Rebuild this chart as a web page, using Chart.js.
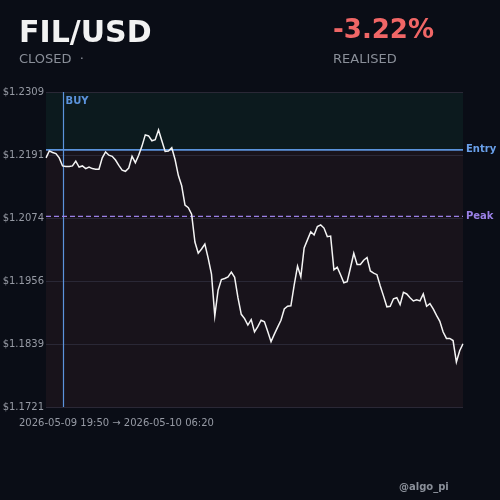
<!DOCTYPE html>
<html>
<head>
<meta charset="utf-8">
<script src="https://cdn.jsdelivr.net/npm/chart.js@4.4.0/dist/chart.umd.min.js"></script>
<style>
  html, body { margin: 0; padding: 0; background: #0a0d16; }
  #wrap { position: relative; width: 500px; height: 500px; overflow: hidden; font-family: 'DejaVu Sans', sans-serif; }
  #c { position: absolute; left: 0; top: 0; }
  .t { position: absolute; white-space: nowrap; line-height: 1; }
  #pair { left: 19px; top: 17px; font-size: 30px; font-weight: bold; color: #f2f2f2; }
  #status { left: 19px; top: 52px; font-size: 13px; color: #8a8f99; }
  #pct { left: 333px; top: 16px; font-size: 26px; font-weight: bold; color: #f06666; }
  #realised { left: 333px; top: 52px; font-size: 13px; color: #8a8f99; }
  #range { left: 19px; top: 418px; font-size: 10px; color: #969aa4; }
  #handle { left: 399px; top: 482px; font-size: 10px; font-weight: bold; color: #8a8f99; }
</style>
</head>
<body>
<div id="wrap">
  <canvas id="c" width="500" height="500"></canvas>
  <div class="t" id="pair">FIL/USD</div>
  <div class="t" id="status">CLOSED &nbsp;·</div>
  <div class="t" id="pct">-3.22%</div>
  <div class="t" id="realised">REALISED</div>
  <div class="t" id="range">2026-05-09 19:50 → 2026-05-10 06:20</div>
  <div class="t" id="handle">@algo_pi</div>
</div>
<script>
// preço de fechamento a cada 5 min
const PRICES = [
  1.2186, 1.2199, 1.2196, 1.2194, 1.2186, 1.2171, 1.2170, 1.2170, 1.2171, 1.2180,
  1.2169, 1.2171, 1.2166, 1.2169, 1.2166, 1.2165, 1.2165, 1.2186, 1.2197, 1.2191,
  1.2189, 1.2182, 1.2172, 1.2163, 1.2161, 1.2167, 1.2189, 1.2177, 1.2191, 1.2208,
  1.2229, 1.2227, 1.2218, 1.2220, 1.2238, 1.2218, 1.2198, 1.2199, 1.2205, 1.2183,
  1.2153, 1.2134, 1.2098, 1.2093, 1.2081, 1.2029, 1.2008, 1.2016, 1.2025, 1.1999,
  1.1969, 1.1891, 1.1939, 1.1959, 1.1961, 1.1964, 1.1973, 1.1963, 1.1925, 1.1894,
  1.1886, 1.1874, 1.1884, 1.1861, 1.1871, 1.1883, 1.1880, 1.1862, 1.1843, 1.1857,
  1.1870, 1.1883, 1.1904, 1.1909, 1.1910, 1.1949, 1.1984, 1.1964, 1.2018, 1.2033,
  1.2048, 1.2042, 1.2058, 1.2061, 1.2055, 1.2039, 1.2040, 1.1977, 1.1982, 1.1968,
  1.1953, 1.1955, 1.1981, 1.2008, 1.1987, 1.1987, 1.1995, 1.2000, 1.1975, 1.1971,
  1.1968, 1.1947, 1.1928, 1.1908, 1.1909, 1.1923, 1.1925, 1.1912, 1.1935, 1.1932,
  1.1925, 1.1919, 1.1921, 1.1919, 1.1932, 1.1909, 1.1914, 1.1904, 1.1892, 1.1881,
  1.1861, 1.1849, 1.1849, 1.1845, 1.1805, 1.1826, 1.1839
];
const Y_TICKS = [1.1721, 1.18386, 1.19562, 1.20738, 1.21914, 1.2309];
const ENTRY_PRICE = 1.2201;
const PEAK_PRICE = 1.2077;
const BUY_INDEX = 5;
const START_TIME = '2026-05-09T19:50';
const STEP_MIN = 5;

const labels = [];
const t0 = new Date(START_TIME);
for (let i = 0; i < PRICES.length; i++) {
    const d = new Date(t0.getTime() + i * STEP_MIN * 60000);
    labels.push(d.toTimeString().slice(0, 5));
}

const FONT = "'DejaVu Sans', sans-serif";
const BLUE = '#5b93dc';
const PURPLE = '#9a80e6';

const zonasPlugin = {
    id: 'zonas',
    beforeDraw(chart) {
        const { ctx, chartArea: a, scales: { y } } = chart;
        const ye = y.getPixelForValue(ENTRY_PRICE);
        ctx.save();
        ctx.fillStyle = '#0c1a1e';
        ctx.fillRect(a.left, a.top, a.right - a.left, ye - a.top);
        ctx.fillStyle = '#18131b';
        ctx.fillRect(a.left, ye, a.right - a.left, a.bottom - ye);
        ctx.restore();
    },
    beforeDatasetsDraw(chart) {
        const { ctx, chartArea: a, scales: { x, y } } = chart;
        const ye = y.getPixelForValue(ENTRY_PRICE);
        const yp = y.getPixelForValue(PEAK_PRICE);
        const xb = x.getPixelForValue(BUY_INDEX);
        ctx.save();
        // linha de compra
        ctx.strokeStyle = BLUE;
        ctx.lineWidth = 1.2;
        ctx.beginPath();
        ctx.moveTo(Math.round(xb) + 0.5, a.top);
        ctx.lineTo(Math.round(xb) + 0.5, a.bottom);
        ctx.stroke();
        // entrada
        ctx.lineWidth = 1.6;
        ctx.beginPath();
        ctx.moveTo(a.left, ye);
        ctx.lineTo(a.right, ye);
        ctx.stroke();
        // pico
        ctx.strokeStyle = PURPLE;
        ctx.lineWidth = 1.3;
        ctx.setLineDash([5, 3]);
        ctx.beginPath();
        ctx.moveTo(a.left, yp);
        ctx.lineTo(a.right, yp);
        ctx.stroke();
        ctx.setLineDash([]);
        // rótulos
        ctx.font = 'bold 10px ' + FONT;
        ctx.textBaseline = 'middle';
        ctx.textAlign = 'left';
        ctx.fillStyle = BLUE;
        ctx.fillText('BUY', xb + 3, a.top + 9);
        ctx.fillStyle = '#6aa0ea';
        ctx.fillText('Entry', a.right + 3, ye);
        ctx.fillStyle = PURPLE;
        ctx.fillText('Peak', a.right + 3, yp);
        ctx.restore();
    }
};

const ctx = document.getElementById('c').getContext('2d');
const precoChart = new Chart(ctx, {
    type: 'line',
    data: {
        labels: labels,
        datasets: [{
            data: PRICES,
            borderColor: '#f4f4f4',
            borderWidth: 1.5,
            pointRadius: 0,
            tension: 0,
            fill: false
        }]
    },
    options: {
        responsive: false,
        animation: false,
        layout: { padding: { top: 92, right: 37, bottom: 93, left: 0 } },
        plugins: {
            legend: { display: false },
            tooltip: { enabled: false }
        },
        scales: {
            x: {
                display: false,
                offset: false
            },
            y: {
                min: Y_TICKS[0],
                max: Y_TICKS[Y_TICKS.length - 1],
                afterFit: (scale) => { scale.width = 46; },
                afterBuildTicks: (scale) => { scale.ticks = Y_TICKS.map(v => ({ value: v })); },
                border: { display: false },
                grid: { color: '#2a2836', lineWidth: 1, drawTicks: false },
                ticks: {
                    padding: 2,
                    color: '#969aa4',
                    font: { family: FONT, size: 10 },
                    callback: (v) => '$' + Number(v).toFixed(4)
                }
            }
        }
    },
    plugins: [zonasPlugin]
});
</script>
</body>
</html>
